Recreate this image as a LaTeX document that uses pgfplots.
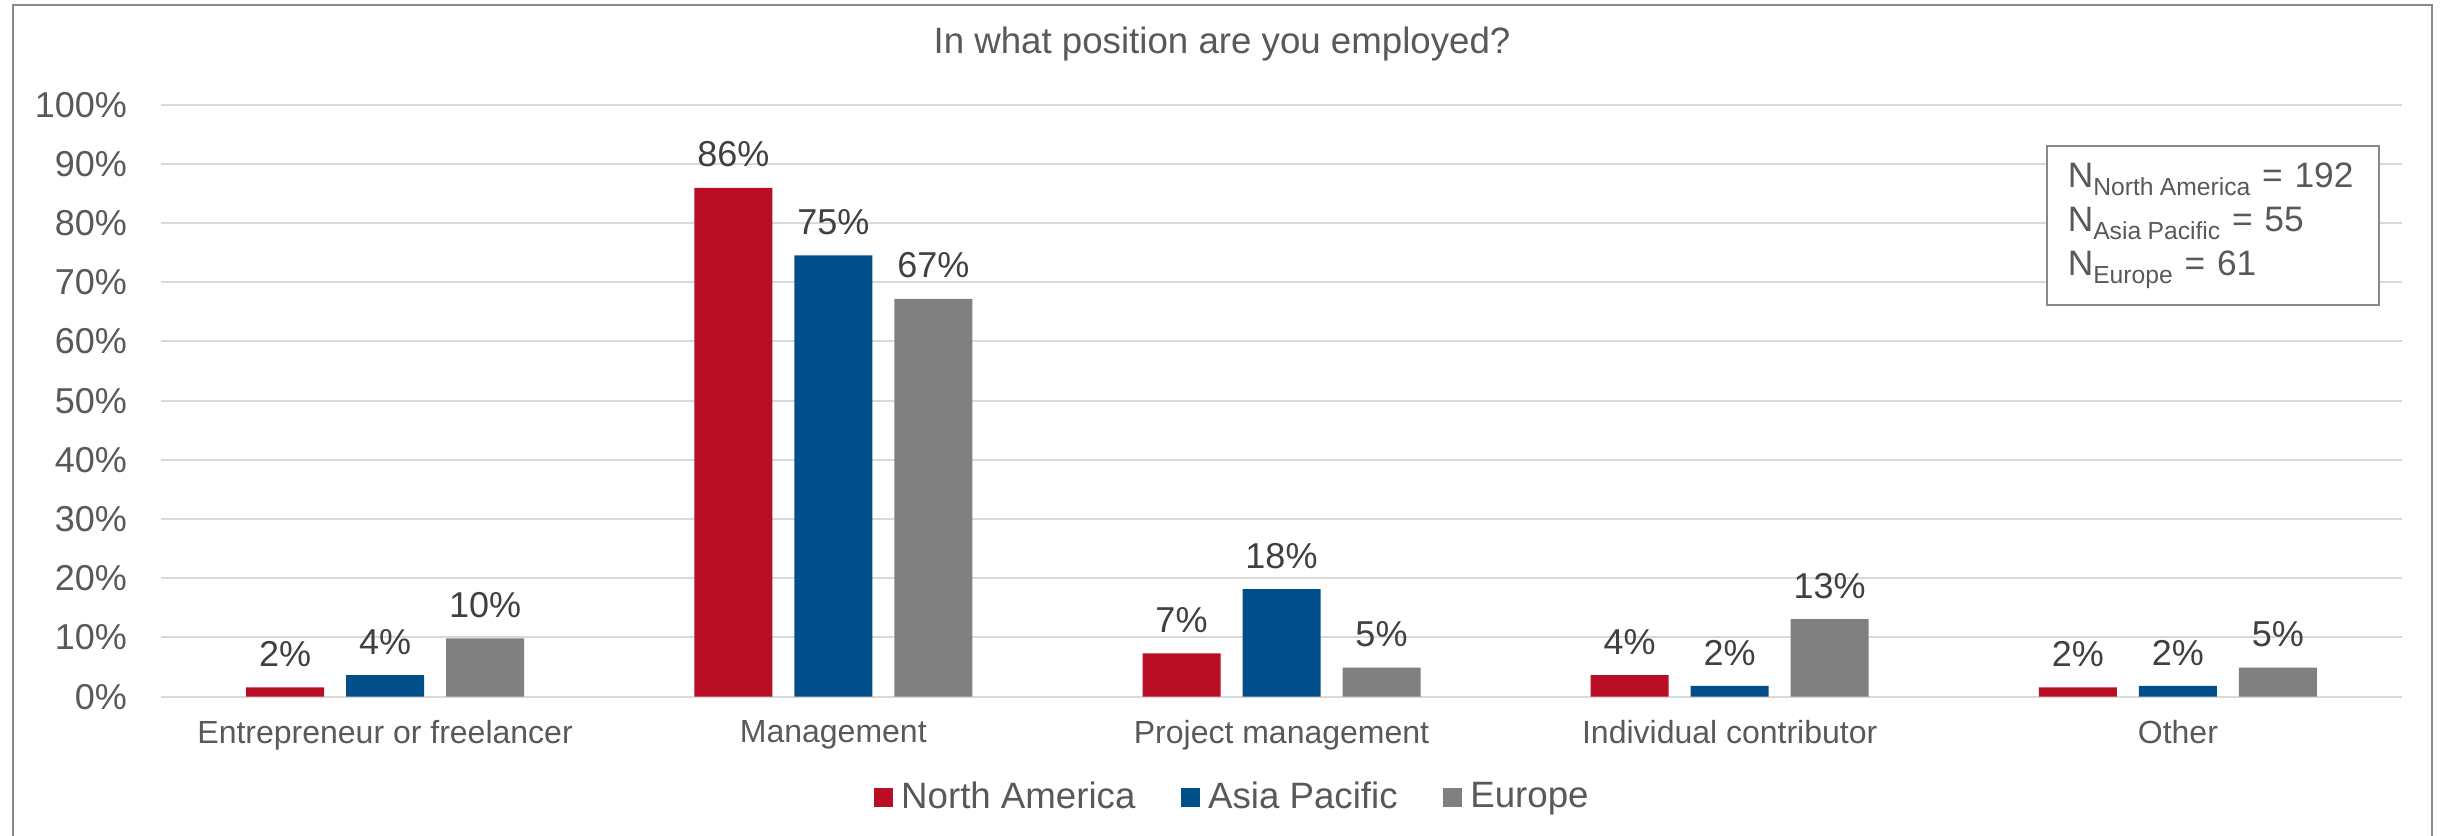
\documentclass[border=0pt]{standalone}
\usepackage{fontspec}
\setmainfont{Liberation Sans}
\usepackage{pgfplots}
\pgfplotsset{compat=1.18}
\definecolor{nared}{RGB}{186,14,36}
\definecolor{apblue}{RGB}{0,79,138}
\definecolor{eugray}{RGB}{128,128,128}
\definecolor{txt}{RGB}{89,89,89}
\definecolor{lbl}{RGB}{64,64,64}
\definecolor{gridc}{RGB}{217,217,217}
\definecolor{framec}{RGB}{137,137,137}
\begin{document}
\begin{tikzpicture}
\path[use as bounding box, fill=white] (0,0) rectangle (733.5pt,250.8pt);
\draw[framec, line width=0.6pt] (3.9pt,-1pt) -- (3.9pt,249.3pt) -- (729.6pt,249.3pt) -- (729.6pt,-1pt);
\node[txt, font=\fontsize{11}{13}\selectfont] at (366.6pt,237.6pt) {In what position are you employed?};
\begin{axis}[
  at={(48.3pt,41.8pt)}, anchor=south west,
  scale only axis, width=672.3pt, height=177.6pt,
  /pgf/number format/assume math mode=true,
  ybar=6.6pt, bar width=23.4pt,
  xmin=-0.5, xmax=4.5, ymin=0, ymax=100,
  xtick={0,1,2,3,4},
  xticklabels={Entrepreneur or freelancer, Management, Project management, Individual contributor, Other},
  ytick={0,10,...,100},
  yticklabel={\pgfmathprintnumber{\tick}\%},
  ymajorgrids, grid style={draw=gridc, line width=0.6pt},
  axis line style={draw=none},
  major tick length=0pt,
  yticklabel style={text=txt, font=\fontsize{10.8}{12}\selectfont, anchor=east, inner sep=0pt, xshift=-10pt},
  xticklabel style={text=txt, font=\fontsize{9.6}{11}\selectfont, anchor=north, inner sep=0pt, yshift=-7pt},
  nodes near coords={\pgfmathprintnumber[fixed,precision=0]{\pgfplotspointmeta}\%},
  nodes near coords style={text=lbl, font=\fontsize{10.8}{12}\selectfont, anchor=south, inner sep=0pt, yshift=6pt},
  legend columns=-1,
  legend style={at={(0.4775,-0.1705)}, anchor=center, draw=none, fill=none, text=txt,
    font=\fontsize{11}{13}\selectfont, inner sep=0pt,
    /tikz/every even column/.append style={column sep=13.5pt},
    /tikz/every odd column/.append style={column sep=2.6pt},
    nodes={inner xsep=0pt, inner ysep=0pt}},
  legend image code/.code={\fill[#1] (0pt,-2.85pt) rectangle (5.7pt,2.85pt);},
]
\addplot[fill=nared, draw=none] coordinates {(0,1.56) (1,85.94) (2,7.29) (3,3.65) (4,1.56)};
\addplot[fill=apblue, draw=none] coordinates {(0,3.64) (1,74.55) (2,18.18) (3,1.82) (4,1.82)};
\addplot[fill=eugray, draw=none] coordinates {(0,9.84) (1,67.21) (2,4.92) (3,13.11) (4,4.92)};
\legend{North America, Asia Pacific, Europe}
\node[draw=framec, line width=0.5pt, fill=white, anchor=north east, text=txt,
  font=\fontsize{10.6}{13.2}\selectfont, text width=87pt, align=left,
  inner xsep=6.3pt, inner ysep=5pt, minimum height=46.5pt]
  at (rel axis cs:0.990,0.932)
  {N\raisebox{-2.4pt}{\fontsize{7.4}{8}\selectfont North\kern1.9pt America} = 192\\
   N\raisebox{-2.4pt}{\fontsize{7.4}{8}\selectfont Asia\kern1.9pt Pacific} = 55\\
   N\raisebox{-2.4pt}{\fontsize{7.4}{8}\selectfont Europe} = 61};
\end{axis}
\end{tikzpicture}
\end{document}
